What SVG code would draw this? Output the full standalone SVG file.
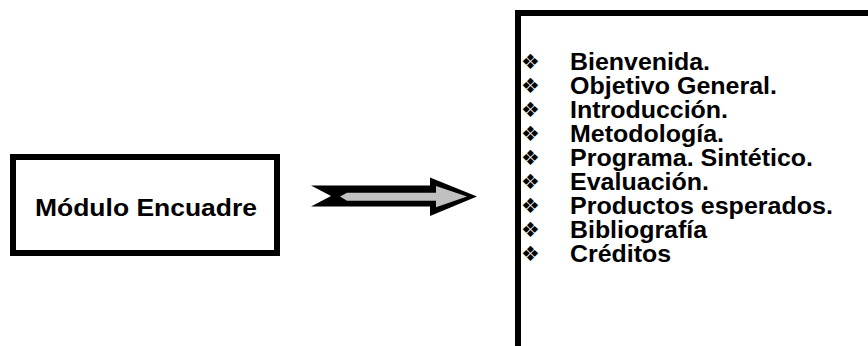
<svg xmlns="http://www.w3.org/2000/svg" width="868" height="346" viewBox="0 0 868 346">
<style>
.box{fill:#fff;stroke:#000;stroke-width:6}
.t{font-family:"Liberation Sans",Arial,sans-serif;font-weight:bold;fill:#000}
.li{font-size:23px}
.b{font-family:"DejaVu Sans",sans-serif;font-size:21px;fill:#000}
</style>
<rect width="868" height="346" fill="#fff"/>
<g id="modulo">
<rect class="box" x="13" y="157" width="264" height="96"/>
<text class="t" x="146" y="216" font-size="24.5" text-anchor="middle" textLength="222" lengthAdjust="spacingAndGlyphs">Módulo Encuadre</text>
</g>
<g id="connectors">
<polygon points="311,185.5 430,185.5 430,177.5 477,196.5 430,216 430,206.5 311,206.5 331,196" fill="#000"/>
<polygon points="347,192.7 436,192.7 436,186 467,196.5 436,207.3 436,200.7 347,200.7 340,196.5" fill="#c0c0c0"/>
</g>
<g id="contenido">
<rect class="box" x="518" y="13" width="400" height="400"/>
<g class="b">
<text x="521" y="69">❖</text>
<text x="521" y="93">❖</text>
<text x="521" y="117">❖</text>
<text x="521" y="141">❖</text>
<text x="521" y="165">❖</text>
<text x="521" y="189">❖</text>
<text x="521" y="213">❖</text>
<text x="521" y="237">❖</text>
<text x="521" y="261">❖</text>
</g>
<g class="t li">
<text x="570" y="70" textLength="140" lengthAdjust="spacingAndGlyphs">Bienvenida.</text>
<text x="570" y="94" textLength="207" lengthAdjust="spacingAndGlyphs">Objetivo General.</text>
<text x="570" y="118" textLength="158" lengthAdjust="spacingAndGlyphs">Introducción.</text>
<text x="570" y="142" textLength="154" lengthAdjust="spacingAndGlyphs">Metodología.</text>
<text x="570" y="166" textLength="243" lengthAdjust="spacingAndGlyphs">Programa. Sintético.</text>
<text x="570" y="190" textLength="139" lengthAdjust="spacingAndGlyphs">Evaluación.</text>
<text x="570" y="214" textLength="263" lengthAdjust="spacingAndGlyphs">Productos esperados.</text>
<text x="570" y="238" textLength="137" lengthAdjust="spacingAndGlyphs">Bibliografía</text>
<text x="570" y="262" textLength="101" lengthAdjust="spacingAndGlyphs">Créditos</text>
</g>
</g>
</svg>
